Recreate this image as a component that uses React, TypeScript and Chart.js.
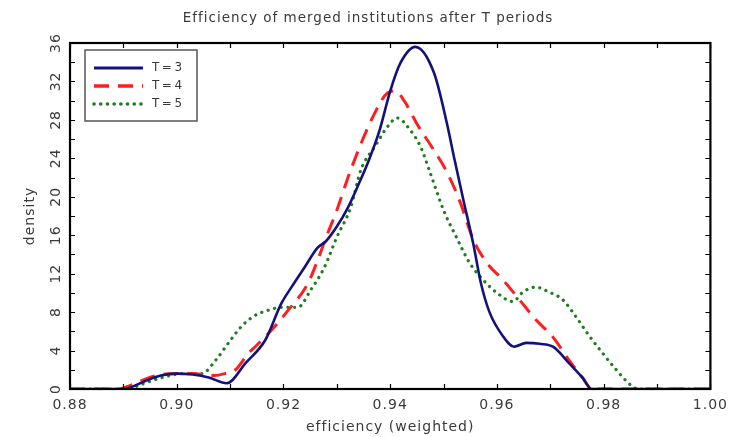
import React, { useEffect, useRef } from "react";
import { Chart, registerables } from "chart.js";

Chart.register(...registerables);

// ---------- data ----------
const TITLE = "Efficiency of merged institutions after T periods";
const X_TITLE = "efficiency (weighted)";
const Y_TITLE = "density";
const SERIES_LABELS = ["T=3", "T=4", "T=5"];

const X_MIN = 0.88;
const X_MAX = 1.0;
const X_STEP = 0.02;
const Y_MIN = 0;
const Y_MAX = 36;
const Y_STEP = 4;

const T3_X = [0.88, 0.89, 0.891, 0.894, 0.897, 0.9, 0.903, 0.906, 0.9094, 0.9129, 0.9166, 0.9196, 0.9215, 0.924, 0.9264, 0.928, 0.93, 0.932, 0.934, 0.936, 0.938, 0.940, 0.9419, 0.9447, 0.9482, 0.9506, 0.952, 0.9537, 0.9556, 0.957, 0.9586, 0.961, 0.9632, 0.9655, 0.968, 0.9705, 0.9735, 0.976, 0.9778, 0.99, 1.0];
const T3_Y = [0, 0, 0.1, 0.8, 1.4, 1.6, 1.5, 1.2, 0.6, 2.7, 5.1, 8.9, 10.6, 12.7, 14.7, 15.4, 16.9, 18.8, 21.2, 23.8, 26.9, 31.0, 33.9, 35.6, 32.9, 27.7, 24.0, 19.7, 15.0, 11.0, 8.0, 5.6, 4.4, 4.8, 4.7, 4.4, 2.7, 1.2, 0, 0, 0];

const T4_X = [0.88, 0.889, 0.891, 0.894, 0.897, 0.9, 0.903, 0.907, 0.909, 0.911, 0.9134, 0.9147, 0.9172, 0.9209, 0.9246, 0.9264, 0.928, 0.93, 0.9326, 0.9371, 0.9395, 0.9410, 0.9426, 0.945, 0.948, 0.9506, 0.953, 0.9556, 0.958, 0.9612, 0.9642, 0.9673, 0.9705, 0.9735, 0.976, 0.9778, 0.99, 1.0];
const T4_Y = [0, 0, 0.3, 1.0, 1.5, 1.6, 1.6, 1.4, 1.6, 2.0, 3.7, 4.4, 5.8, 8.2, 11.0, 13.4, 15.8, 18.6, 22.8, 28.7, 30.8, 31.0, 30.0, 27.6, 25.0, 22.6, 19.6, 15.5, 13.2, 11.3, 9.3, 7.2, 5.4, 3.0, 1.2, 0, 0, 0];

const T5_X = [0.88, 0.89, 0.892, 0.895, 0.898, 0.901, 0.9047, 0.9073, 0.9097, 0.9121, 0.9145, 0.9172, 0.9196, 0.9227, 0.9251, 0.9277, 0.93, 0.9326, 0.9345, 0.9371, 0.9395, 0.9413, 0.9438, 0.9457, 0.9473, 0.95, 0.9524, 0.9549, 0.9575, 0.96, 0.963, 0.9649, 0.9673, 0.9697, 0.9723, 0.9747, 0.9772, 0.9797, 0.9822, 0.9853, 0.9865, 1.0];
const T5_Y = [0, 0, 0.2, 0.8, 1.3, 1.6, 1.6, 3.0, 4.8, 6.5, 7.6, 8.2, 8.5, 8.5, 10.3, 12.7, 15.8, 18.9, 22.8, 25.2, 27.3, 28.2, 26.9, 25.2, 22.8, 18.6, 15.8, 13.1, 11.3, 10.0, 9.1, 10.1, 10.6, 10.1, 9.3, 7.6, 5.6, 3.8, 2.1, 0.3, 0, 0];

const toPoints = (xs: number[], ys: number[]) => xs.map((x, i) => ({ x, y: ys[i] }));

const FONT = "'DejaVu Sans', sans-serif";
const TEXT_COLOR = "#3a3a3a";

// ---------- plugins ----------
const spacingPlugin = {
  id: "letterSpacing",
  beforeUpdate(chart: any) {
    chart.ctx.letterSpacing = "1px";
  },
  beforeDraw(chart: any) {
    chart.ctx.letterSpacing = "1px";
  },
};

const framePlugin = {
  id: "frameTicks",
  afterDatasetsDraw(chart: any) {
    const { ctx, chartArea, scales } = chart;
    const { left, right, top, bottom } = chartArea;
    const xs = scales.x;
    const ys = scales.y;
    ctx.save();
    ctx.strokeStyle = "#000";
    ctx.lineWidth = 1.2;
    ctx.setLineDash([]);
    const tl = 5;
    const xVals: number[] = [];
    xs.ticks.forEach((t: any, i: number) => {
      xVals.push(t.value);
      if (i < xs.ticks.length - 1) xVals.push((t.value + xs.ticks[i + 1].value) / 2);
    });
    const yVals: number[] = [];
    ys.ticks.forEach((t: any, i: number) => {
      yVals.push(t.value);
      if (i < ys.ticks.length - 1) yVals.push((t.value + ys.ticks[i + 1].value) / 2);
    });
    ctx.beginPath();
    xVals.forEach((v) => {
      const px = Math.round(xs.getPixelForValue(v)) + 0.5;
      ctx.moveTo(px, bottom);
      ctx.lineTo(px, bottom - tl);
      ctx.moveTo(px, top);
      ctx.lineTo(px, top + tl);
    });
    yVals.forEach((v) => {
      const py = Math.round(ys.getPixelForValue(v)) + 0.5;
      ctx.moveTo(left, py);
      ctx.lineTo(left + tl, py);
      ctx.moveTo(right, py);
      ctx.lineTo(right - tl, py);
    });
    ctx.stroke();
    ctx.lineWidth = 2.2;
    ctx.strokeRect(left, top, right - left, bottom - top);

    // legend box
    const lx = left + 15;
    const ly = top + 7;
    const lw = 112;
    const lh = 71;
    ctx.fillStyle = "#fff";
    ctx.fillRect(lx, ly, lw, lh);
    ctx.strokeStyle = "#555";
    ctx.lineWidth = 1.5;
    ctx.strokeRect(lx, ly, lw, lh);
    chart.data.datasets.forEach((ds: any, i: number) => {
      const y = ly + 18 + i * 18;
      ctx.save();
      ctx.strokeStyle = ds.borderColor;
      ctx.lineWidth = ds.borderWidth + 0.4;
      ctx.lineCap = ds.borderCapStyle || "butt";
      ctx.setLineDash(ds.borderDash || []);
      ctx.beginPath();
      ctx.moveTo(lx + 9, y);
      ctx.lineTo(lx + 58, y);
      ctx.stroke();
      ctx.restore();
      ctx.fillStyle = TEXT_COLOR;
      ctx.font = `12px ${FONT}`;
      ctx.textBaseline = "middle";
      ctx.textAlign = "left";
      (ctx as any).letterSpacing = "2.5px";
      ctx.fillText(ds.label, lx + 67, y);
      (ctx as any).letterSpacing = "1px";
    });
    ctx.restore();
  },
};

export default function App() {
  const ref = useRef<HTMLCanvasElement | null>(null);

  useEffect(() => {
    if (!ref.current) return;
    const chart = new Chart(ref.current, {
      type: "line",
      data: {
        datasets: [
          {
            label: SERIES_LABELS[0],
            data: toPoints(T3_X, T3_Y),
            borderColor: "#12127c",
            borderWidth: 2.6,
            pointRadius: 0,
            cubicInterpolationMode: "monotone",
            fill: false,
          },
          {
            label: SERIES_LABELS[1],
            data: toPoints(T4_X, T4_Y),
            borderColor: "#ff1e1e",
            borderWidth: 3,
            borderDash: [15, 9],
            pointRadius: 0,
            cubicInterpolationMode: "monotone",
            fill: false,
          },
          {
            label: SERIES_LABELS[2],
            data: toPoints(T5_X, T5_Y),
            borderColor: "#1e7d1e",
            borderWidth: 3.2,
            borderDash: [0.1, 6.6],
            borderCapStyle: "round",
            pointRadius: 0,
            cubicInterpolationMode: "monotone",
            fill: false,
          },
        ] as any,
      },
      options: {
        animation: false,
        responsive: false,
        devicePixelRatio: 1,
        layout: { padding: { left: 0, right: 0, top: 0, bottom: 0 } },
        plugins: {
          legend: { display: false },
          tooltip: { enabled: false },
          title: {
            display: true,
            text: TITLE,
            color: TEXT_COLOR,
            font: { family: FONT, size: 13.5, weight: "normal", lineHeight: 1.2 },
            padding: { top: 9.9, bottom: 16.9 },
          },
        },
        scales: {
          x: {
            type: "linear",
            min: X_MIN,
            max: X_MAX,
            grid: { display: false, drawTicks: false },
            border: { display: false },
            ticks: {
              stepSize: X_STEP,
              autoSkip: false,
              maxRotation: 0,
              minRotation: 0,
              padding: 8,
              color: TEXT_COLOR,
              font: { family: FONT, size: 14 },
              callback: (v: any) => Number(v).toFixed(2),
            },
            title: {
              display: true,
              text: X_TITLE,
              color: TEXT_COLOR,
              font: { family: FONT, size: 14, lineHeight: 1.2 },
              padding: { top: 0, bottom: 1 },
            },
            afterFit: (s: any) => {
              s.height = 48;
            },
          },
          y: {
            type: "linear",
            min: Y_MIN,
            max: Y_MAX,
            grid: { display: false, drawTicks: false },
            border: { display: false },
            ticks: {
              stepSize: Y_STEP,
              autoSkip: false,
              minRotation: 90,
              maxRotation: 90,
              crossAlign: "center",
              padding: 4,
              color: TEXT_COLOR,
              font: { family: FONT, size: 14 },
            },
            title: {
              display: true,
              text: Y_TITLE,
              color: TEXT_COLOR,
              font: { family: FONT, size: 14, lineHeight: 1.2 },
              padding: { top: 21.6, bottom: 0 },
            },
            afterFit: (s: any) => {
              s.width = 70;
            },
          },
          yRight: {
            type: "linear",
            position: "right",
            display: true,
            min: Y_MIN,
            max: Y_MAX,
            grid: { display: false, drawTicks: false },
            border: { display: false },
            ticks: { display: false },
            afterFit: (s: any) => {
              s.width = 20;
            },
          },
        },
      } as any,
      plugins: [spacingPlugin, framePlugin],
    });
    return () => chart.destroy();
  }, []);

  return (
    <div style={{ position: "fixed", left: 0, top: 0, width: 736, height: 437, background: "#fff" }}>
      <canvas ref={ref} width={736} height={437} />
    </div>
  );
}
